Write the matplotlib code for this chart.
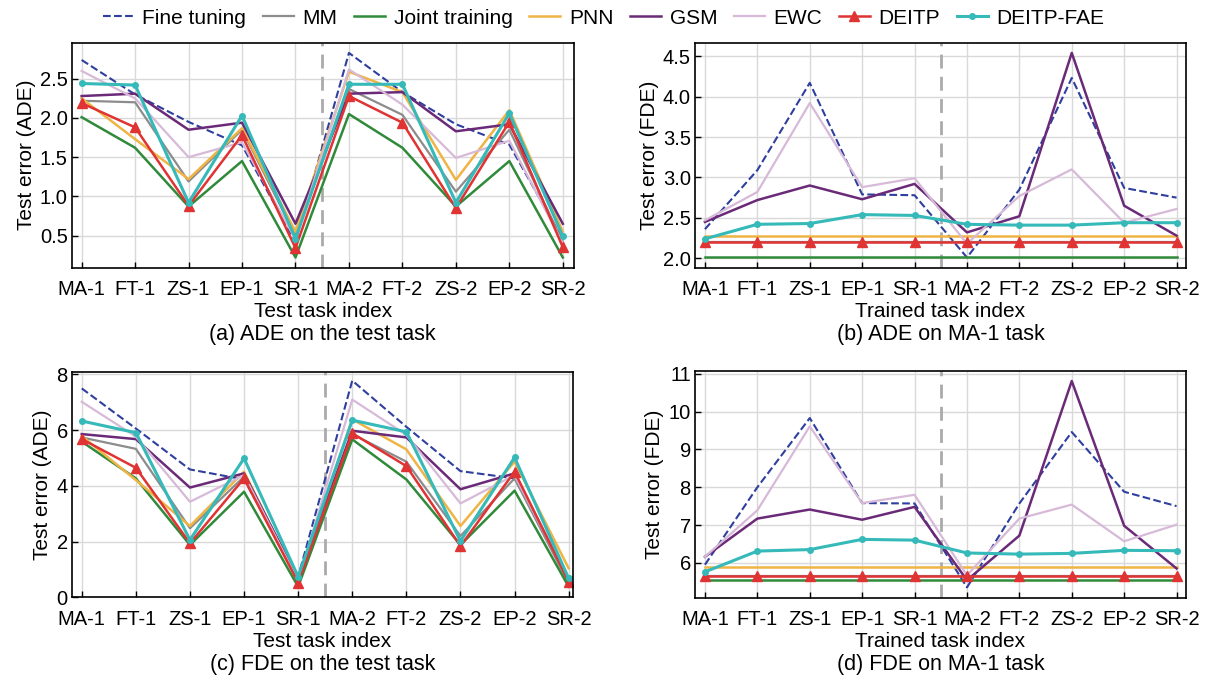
import matplotlib
matplotlib.use("Agg")
import matplotlib.pyplot as plt

plt.rcParams['font.family'] = ['Liberation Sans', 'DejaVu Sans']
plt.rcParams['font.size'] = 15

tasks = ["MA-1", "FT-1", "ZS-1", "EP-1", "SR-1", "MA-2", "FT-2", "ZS-2", "EP-2", "SR-2"]
methods = ["Fine tuning", "MM", "Joint training", "PNN", "GSM", "EWC", "DEITP", "DEITP-FAE"]

# (a) ADE on the test task
ade_test = {
    "Fine tuning":    [2.74, 2.30, 1.95, 1.65, 0.42, 2.83, 2.33, 1.92, 1.66, 0.45],
    "MM":             [2.22, 2.20, 1.19, 1.85, 0.50, 2.37, 2.04, 1.06, 1.85, 0.42],
    "Joint training": [2.01, 1.62, 0.87, 1.45, 0.22, 2.05, 1.62, 0.87, 1.45, 0.22],
    "PNN":            [2.25, 1.73, 1.22, 1.87, 0.55, 2.59, 2.33, 1.21, 2.10, 0.55],
    "GSM":            [2.28, 2.31, 1.85, 1.94, 0.65, 2.31, 2.33, 1.83, 1.92, 0.65],
    "EWC":            [2.60, 2.25, 1.50, 1.69, 0.45, 2.62, 2.17, 1.49, 1.71, 0.40],
    "DEITP":          [2.19, 1.88, 0.88, 1.78, 0.34, 2.28, 1.94, 0.85, 1.95, 0.35],
    "DEITP-FAE":      [2.44, 2.42, 0.92, 2.03, 0.46, 2.43, 2.43, 0.92, 2.06, 0.49],
}

# (b) ADE on MA-1 task
ade_ma1 = {
    "Fine tuning":    [2.36, 3.09, 4.17, 2.79, 2.78, 2.01, 2.85, 4.23, 2.87, 2.75],
    "MM":             [2.20, 2.20, 2.20, 2.20, 2.20, 2.20, 2.20, 2.20, 2.20, 2.20],
    "Joint training": [2.01, 2.01, 2.01, 2.01, 2.01, 2.01, 2.01, 2.01, 2.01, 2.01],
    "PNN":            [2.28, 2.28, 2.28, 2.28, 2.28, 2.28, 2.28, 2.28, 2.28, 2.28],
    "GSM":            [2.45, 2.72, 2.90, 2.73, 2.92, 2.32, 2.52, 4.54, 2.65, 2.28],
    "EWC":            [2.47, 2.82, 3.92, 2.88, 2.99, 2.18, 2.77, 3.10, 2.44, 2.61],
    "DEITP":          [2.20, 2.20, 2.20, 2.20, 2.20, 2.20, 2.20, 2.20, 2.20, 2.20],
    "DEITP-FAE":      [2.24, 2.42, 2.43, 2.54, 2.53, 2.42, 2.41, 2.41, 2.44, 2.44],
}

# (c) FDE on the test task
fde_test = {
    "Fine tuning":    [7.50, 6.06, 4.59, 4.23, 0.74, 7.78, 6.12, 4.53, 4.27, 0.65],
    "MM":             [5.74, 5.33, 2.48, 4.33, 0.55, 5.86, 4.87, 2.20, 4.27, 0.50],
    "Joint training": [5.59, 4.27, 1.88, 3.79, 0.38, 5.67, 4.23, 1.88, 3.83, 0.38],
    "PNN":            [5.79, 4.21, 2.56, 4.51, 0.60, 6.39, 5.31, 2.56, 4.87, 1.04],
    "GSM":            [5.86, 5.68, 3.94, 4.45, 0.65, 5.98, 5.74, 3.88, 4.45, 0.60],
    "EWC":            [7.02, 5.77, 3.43, 4.39, 0.60, 7.10, 5.83, 3.37, 4.39, 0.60],
    "DEITP":          [5.68, 4.65, 1.94, 4.27, 0.53, 5.89, 4.71, 1.84, 4.51, 0.56],
    "DEITP-FAE":      [6.33, 5.91, 2.06, 4.99, 0.74, 6.36, 5.94, 2.02, 5.02, 0.68],
}

# (d) FDE on MA-1 task
fde_ma1 = {
    "Fine tuning":    [5.95, 8.00, 9.83, 7.58, 7.57, 5.35, 7.57, 9.46, 7.88, 7.50],
    "MM":             [5.66, 5.66, 5.66, 5.66, 5.66, 5.66, 5.66, 5.66, 5.66, 5.66],
    "Joint training": [5.54, 5.54, 5.54, 5.54, 5.54, 5.54, 5.54, 5.54, 5.54, 5.54],
    "PNN":            [5.88, 5.88, 5.88, 5.88, 5.88, 5.88, 5.88, 5.88, 5.88, 5.88],
    "GSM":            [6.16, 7.17, 7.41, 7.14, 7.48, 5.54, 6.72, 10.81, 6.98, 5.85],
    "EWC":            [6.16, 7.39, 9.61, 7.58, 7.80, 5.67, 7.17, 7.54, 6.57, 7.01],
    "DEITP":          [5.66, 5.66, 5.66, 5.66, 5.66, 5.66, 5.66, 5.66, 5.66, 5.66],
    "DEITP-FAE":      [5.76, 6.31, 6.35, 6.62, 6.60, 6.26, 6.23, 6.25, 6.33, 6.32],
}

styles = {
    "Fine tuning":    dict(color="#2f3f9e", ls="--", lw=1.5),
    "MM":             dict(color="#8c8c8c", lw=1.6),
    "Joint training": dict(color="#2f8a3a", lw=1.8),
    "PNN":            dict(color="#efb444", lw=1.8),
    "GSM":            dict(color="#6b2a78", lw=1.8),
    "EWC":            dict(color="#d7b9d8", lw=1.6),
    "DEITP":          dict(color="#e03333", lw=1.8, marker="^", ms=7),
    "DEITP-FAE":      dict(color="#35b9b9", lw=2.2, marker="o", ms=4),
}

W, H = 1207, 682
fig = plt.figure(figsize=(W / 100, H / 100), dpi=100)


def px_axes(l, r, t, b):
    return fig.add_axes([l / W, 1 - b / H, (r - l) / W, (b - t) / H])


panels = [
    (ade_test, (72, 573.5, 42.7, 267.7), "Test error (ADE)", "Test task index",
     "(a) ADE on the test task", (-0.18, 9.2), None, [0.5, 1.0, 1.5, 2.0, 2.5]),
    (ade_ma1, (695, 1186, 42.7, 267.7), "Test error (FDE)", "Trained task index",
     "(b) ADE on MA-1 task", (-0.19, 9.18), None, [2.0, 2.5, 3.0, 3.5, 4.0, 4.5]),
    (fde_test, (72, 573, 371.7, 597.3), "Test error (ADE)", "Test task index",
     "(c) FDE on the test task", (-0.18, 9.08), (0, 8.1), [0, 2, 4, 6, 8]),
    (fde_ma1, (695, 1186, 370.7, 597.7), "Test error (FDE)", "Trained task index",
     "(d) FDE on MA-1 task", (-0.19, 9.18), None, [6, 7, 8, 9, 10, 11]),
]

x = list(range(len(tasks)))
for data, box, ylab, xlab, cap, xlim, ylim, yticks in panels:
    ax = px_axes(*box)
    ax.grid(True, color="#d9d9d9", lw=1.0)
    ax.set_axisbelow(True)
    for m in methods:
        ax.plot(x, data[m], label=m, **styles[m])
    ax.axvline(4.5, color="#aaaaaa", ls="--", lw=2, dashes=(5, 3), zorder=1)
    ax.set_xlim(*xlim)
    if ylim:
        ax.set_ylim(*ylim)
    ax.set_xticks(x)
    ax.set_xticklabels(tasks)
    ax.set_yticks(yticks)
    ax.tick_params(direction="in", length=4, width=1, labelsize=14.5)
    ax.tick_params(axis="x", pad=9)
    ax.tick_params(axis="y", pad=3)
    for s in ax.spines.values():
        s.set_linewidth(1.2)
    ax.set_ylabel(ylab, labelpad=3)
    ax.set_xlabel(xlab, labelpad=2)
    l, r, t, b = box
    fig.text((l + r) / 2 / W, 1 - (b + 67) / H, cap, ha="center", va="center",
             fontsize=15.5)

handles, labels = fig.axes[0].get_legend_handles_labels()
fig.legend(handles, labels, loc="center", bbox_to_anchor=(0.5, 1 - 18 / H), ncol=8,
           frameon=False, handlelength=1.5, columnspacing=0.8, handletextpad=0.4)

fig.savefig("out.png", dpi=100)
